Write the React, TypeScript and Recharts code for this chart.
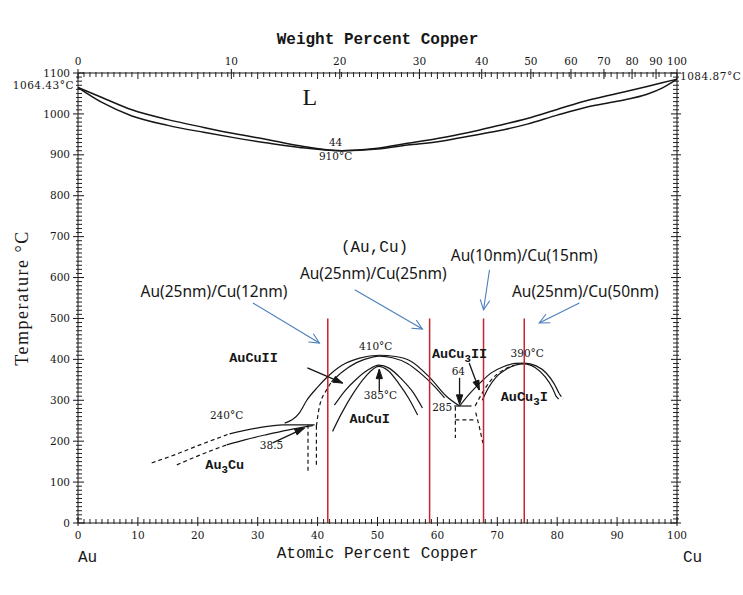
import React from 'react';
import { LineChart, Line, XAxis, YAxis, ReferenceLine, ReferenceDot } from 'recharts';

type Pt = [number, number];

// x = atomic percent Cu, y = temperature in °C
const liquidusAt = [0, 4, 9, 15, 21, 26, 32, 37, 44, 50, 55, 60, 65, 70, 75, 80, 85, 90, 95, 97.5, 100];
const liquidusT = [1064.4, 1040, 1010, 986, 967, 952, 936, 922, 910, 916, 928, 940, 954, 971, 989, 1011, 1033, 1050, 1067, 1076, 1084.9];
const solidusT = [1064.4, 1028, 995, 972, 955, 942, 928, 918, 910, 914, 924, 932, 945, 958, 975, 997, 1017, 1031, 1048, 1063, 1084.9];

// ordered phases (solid / dashed boundaries)
const au3CuOuterDash: Pt[] = [[12.3, 147], [16, 166], [20, 189], [25.3, 218]];
const au3CuOuter: Pt[] = [[25.3, 218], [29.8, 232], [34.2, 240], [39.5, 240]];
const au3CuInnerDash: Pt[] = [[16.5, 142], [20.5, 167], [24.8, 191]];
const au3CuInner: Pt[] = [[24.8, 191], [28, 204], [31.5, 216], [35, 227], [39.2, 238]];
const au3CuEdgeA: Pt[] = [[38.4, 240], [38.4, 122]];
const au3CuEdgeB: Pt[] = [[39.8, 238], [39.8, 137]];

const auCuIIOuter: Pt[] = [[34.5, 244], [37, 270], [38.2, 300], [40, 332], [41.7, 358], [44, 385], [47, 403], [50.3, 410], [53, 407], [55.5, 396], [58.7, 356], [61.5, 310], [63.7, 286]];
const auCuIIInnerDash: Pt[] = [[39.8, 237], [40.3, 284], [41.7, 330], [42.3, 345]];
const auCuIIInner: Pt[] = [[42.3, 345], [44, 368], [46.5, 392], [49, 405], [50.3, 408], [52.5, 404], [55, 390], [57.5, 362], [59.5, 334], [61.2, 306]];

const auCuIA: Pt[] = [[42.8, 288], [44.5, 322], [46.5, 352], [48.5, 375], [50.2, 386], [52, 378], [54, 352], [56, 318], [57.5, 281]];
const auCuIB: Pt[] = [[42.5, 224], [44, 268], [46, 318], [48, 358], [50.2, 383], [51.8, 372], [53.5, 342], [55.2, 305], [56.7, 264]];

const line285: Pt[] = [[62.8, 286], [65.7, 286]];
const auCu3Outer: Pt[] = [[63.7, 286], [65.5, 318], [67.3, 345], [69, 367], [71, 382], [73, 390], [74.5, 391], [76.5, 384], [78.2, 366], [79.5, 340], [80.3, 317]];
const auCu3Inner: Pt[] = [[67.5, 300], [68.5, 330], [69.7, 355], [71.3, 374], [73, 386], [74.5, 389], [76.3, 380], [78, 357], [79.2, 330], [79.8, 310]];
const auCu3Dash: Pt[] = [[66.3, 286], [67.5, 318], [69, 350], [71, 374], [72.8, 385]];
const auCu3TailA: Pt[] = [[80.3, 317], [81, 303]];
const auCu3TailB: Pt[] = [[79.8, 310], [80.4, 300]];
const boxLeft: Pt[] = [[63, 284], [63, 208]];
const boxMid: Pt[] = [[63, 252], [66.5, 252]];
const boxRight: Pt[] = [[66.4, 270], [67, 235], [67.6, 195]];

// film compositions (red lines)
const filmAt = [41.7, 58.7, 67.7, 74.5];
const filmTop = 500;

// axes
const atMajor = [0, 10, 20, 30, 40, 50, 60, 70, 80, 90, 100];
const atMinor = Array.from({ length: 101 }, (_, i) => i).filter((v) => v % 10 !== 0);
const tempMajor = [0, 100, 200, 300, 400, 500, 600, 700, 800, 900, 1000, 1100];
const tempMinor = Array.from({ length: 111 }, (_, i) => i * 10).filter((v) => v % 100 !== 0);
const wtLabels = [0, 10, 20, 30, 40, 50, 60, 70, 80, 90, 100];
const wtAtPos = [0, 25.6, 43.7, 57.0, 67.4, 75.6, 82.3, 87.8, 92.5, 96.5, 100];

// arrows [from, to]
const blueArrows: [Pt, Pt][] = [
  [[29.2, 538], [40.3, 440]],
  [[46.2, 570], [57.5, 474]],
  [[68.7, 619], [67.7, 521]],
  [[83.7, 538], [77, 489]],
];
const blackArrows: [Pt, Pt][] = [
  [[38.3, 379], [44.2, 342]],
  [[50.3, 322], [50.3, 376]],
  [[32.5, 196], [37.8, 232]],
  [[65.3, 391], [67, 325]],
  [[63.7, 355], [63.7, 290]],
];

type Note = { text: string; x: number; y: number; kind: string; anchor?: 'start' | 'middle' | 'end' };
const notes: Note[] = [
  { text: 'L', x: 38.7, y: 1022, kind: 'big' },
  { text: '44', x: 43, y: 921, kind: 'num' },
  { text: '910°C', x: 43, y: 888, kind: 'num' },
  { text: '1064.43°C', x: 0, y: 1061, kind: 'edge', anchor: 'end' },
  { text: '1084.87°C', x: 100, y: 1083, kind: 'edge', anchor: 'start' },
  { text: '(Au,Cu)', x: 49.5, y: 662, kind: 'region' },
  { text: 'AuCuII', x: 29.3, y: 394, kind: 'phase' },
  { text: '410°C', x: 49.7, y: 423, kind: 'num' },
  { text: '385°C', x: 50.5, y: 304, kind: 'num' },
  { text: 'AuCuI', x: 48.7, y: 245, kind: 'phase' },
  { text: '240°C', x: 24.8, y: 255, kind: 'num' },
  { text: '38.5', x: 32.3, y: 181, kind: 'num' },
  { text: 'Au_3Cu', x: 24.5, y: 132, kind: 'phase' },
  { text: 'AuCu_3II', x: 63.7, y: 404, kind: 'phase' },
  { text: '64', x: 63.5, y: 361, kind: 'num' },
  { text: '285', x: 60.8, y: 275, kind: 'num' },
  { text: '390°C', x: 75, y: 405, kind: 'num' },
  { text: 'AuCu_3I', x: 74.5, y: 299, kind: 'phase' },
  { text: 'Au(25nm)/Cu(12nm)', x: 22.7, y: 553, kind: 'film' },
  { text: 'Au(25nm)/Cu(25nm)', x: 49.3, y: 597, kind: 'film' },
  { text: 'Au(10nm)/Cu(15nm)', x: 74.5, y: 641, kind: 'film' },
  { text: 'Au(25nm)/Cu(50nm)', x: 84.7, y: 553, kind: 'film' },
];

const INK = '#161616';
const SERIF = 'DejaVu Serif';
const MONO = 'Liberation Mono';

const noteStyle: Record<string, { font: string; size: number; weight?: string; spacing?: number }> = {
  big: { font: 'Liberation Serif', size: 24 },
  num: { font: SERIF, size: 10.5 },
  edge: { font: SERIF, size: 10.5, spacing: 0.5 },
  region: { font: MONO, size: 16 },
  phase: { font: MONO, size: 13.5, weight: 'bold' },
  film: { font: 'Noto Sans', size: 15.5 },
};

const toObj = (pts: Pt[]) => pts.map(([x, y]) => ({ x, y }));
const pairObj = (xs: number[], ys: number[]) => xs.map((x, i) => ({ x, y: ys[i] }));

const curves: { key: string; data: { x: number; y: number }[]; dash?: boolean; smooth?: boolean; w?: number }[] = [
  { key: 'liq', data: pairObj(liquidusAt, liquidusT), smooth: true, w: 1.5 },
  { key: 'sol', data: pairObj(liquidusAt, solidusT), smooth: true, w: 1.5 },
  { key: 'a3od', data: toObj(au3CuOuterDash), dash: true, smooth: true },
  { key: 'a3o', data: toObj(au3CuOuter), smooth: true },
  { key: 'a3id', data: toObj(au3CuInnerDash), dash: true, smooth: true },
  { key: 'a3i', data: toObj(au3CuInner), smooth: true },
  { key: 'a3ea', data: toObj(au3CuEdgeA), dash: true },
  { key: 'a3eb', data: toObj(au3CuEdgeB), dash: true },
  { key: 'a2o', data: toObj(auCuIIOuter), smooth: true },
  { key: 'a2id', data: toObj(auCuIIInnerDash), dash: true, smooth: true },
  { key: 'a2i', data: toObj(auCuIIInner), smooth: true },
  { key: 'a1a', data: toObj(auCuIA), smooth: true },
  { key: 'a1b', data: toObj(auCuIB), smooth: true },
  { key: 'l285', data: toObj(line285) },
  { key: 'c3o', data: toObj(auCu3Outer), smooth: true },
  { key: 'c3i', data: toObj(auCu3Inner), smooth: true },
  { key: 'c3d', data: toObj(auCu3Dash), dash: true, smooth: true },
  { key: 'c3ta', data: toObj(auCu3TailA), dash: true },
  { key: 'c3tb', data: toObj(auCu3TailB), dash: true },
  { key: 'bxl', data: toObj(boxLeft), dash: true },
  { key: 'bxm', data: toObj(boxMid), dash: true },
  { key: 'bxr', data: toObj(boxRight), dash: true },
];

const rich = (s: string, size: number) => {
  const parts = s.split(/(_\d)/).filter(Boolean);
  let shifted = false;
  return parts.map((part, i) => {
    if (part.startsWith('_')) {
      shifted = true;
      return <tspan key={i} fontSize={size * 0.8} dy={size * 0.3}>{part.slice(1)}</tspan>;
    }
    const dy = shifted ? -size * 0.3 : 0;
    shifted = false;
    return <tspan key={i} dy={dy}>{part}</tspan>;
  });
};

const makeNote = (n: Note) => (p: any) => {
  const st = noteStyle[n.kind];
  const dx = n.anchor === 'end' ? -4 : n.anchor === 'start' ? 3 : 0;
  return (
    <text x={p.cx + dx} y={p.cy} dy="0.35em" textAnchor={n.anchor || 'middle'} fontFamily={st.font}
      fontSize={st.size} fontWeight={st.weight || 'normal'} letterSpacing={st.spacing || 0} fill={INK}>
      {rich(n.text, st.size)}
    </text>
  );
};

// short tick mark drawn at a reference dot, offsets in pixels
const tickMark = (dx1: number, dy1: number, dx2: number, dy2: number) => (p: any) => (
  <path d={`M${p.cx + dx1},${p.cy + dy1}L${p.cx + dx2},${p.cy + dy2}`} stroke="#222" strokeWidth={1} fill="none" />
);

const arrowShape = (color: string, open: boolean) => (p: any) => {
  const { x1, y1, x2, y2 } = p;
  const a = Math.atan2(y2 - y1, x2 - x1);
  const len = open ? 11 : 10;
  const spread = open ? 0.45 : 0.32;
  const hx1 = x2 - len * Math.cos(a - spread);
  const hy1 = y2 - len * Math.sin(a - spread);
  const hx2 = x2 - len * Math.cos(a + spread);
  const hy2 = y2 - len * Math.sin(a + spread);
  return (
    <g>
      <line x1={x1} y1={y1} x2={x2} y2={y2} stroke={color} strokeWidth={open ? 1.1 : 1.3} />
      {open ? (
        <polyline points={`${hx1},${hy1} ${x2},${y2} ${hx2},${hy2}`} fill="none" stroke={color} strokeWidth={1.1} />
      ) : (
        <polygon points={`${hx1},${hy1} ${x2},${y2} ${hx2},${hy2}`} fill={color} stroke={color} />
      )}
    </g>
  );
};

const BottomTick = (p: any) => {
  const { x, y, payload } = p;
  return (
    <g>
      <line x1={x} x2={x} y1={y - 6} y2={y + 3} stroke={INK} />
      <text x={x} y={y + 16} textAnchor="middle" fontFamily={SERIF} fontSize={10.5} fill={INK}>{payload.value}</text>
    </g>
  );
};

const TopTick = (p: any) => {
  const { x, y, payload } = p;
  const wi = wtAtPos.indexOf(payload.value);
  return (
    <g>
      <line x1={x} x2={x} y1={y - 4} y2={y + 6} stroke={INK} />
      <text x={x} y={y - 8} textAnchor="middle" fontFamily={SERIF} fontSize={10.5} fill={INK}>{wtLabels[wi]}</text>
    </g>
  );
};

const LeftTick = (p: any) => {
  const { x, y, payload } = p;
  return (
    <g>
      <line x1={x - 5} x2={x + 6} y1={y} y2={y} stroke={INK} />
      <text x={x - 8} y={y} dy="0.35em" textAnchor="end" fontFamily={SERIF} fontSize={10.5} fill={INK}>{payload.value}</text>
    </g>
  );
};

const RightTick = (p: any) => {
  const { x, y } = p;
  return <line x1={x - 6} x2={x + 4} y1={y} y2={y} stroke={INK} />;
};

export default function App() {
  return (
    <div style={{ position: 'absolute', left: 0, top: 0, width: 743, height: 595, background: '#fff' }}>
      <LineChart width={743} height={595} margin={{ top: 43, right: 0, bottom: 32, left: 0 }}>
        <XAxis dataKey="x" type="number" domain={[0, 100]} ticks={atMajor} interval={0} tick={<BottomTick />}
          tickLine={false} tickSize={0} tickMargin={0} height={40} stroke={INK} />
        <XAxis xAxisId="top" dataKey="x" orientation="top" type="number" domain={[0, 100]} ticks={wtAtPos}
          interval={0} tick={<TopTick />} tickLine={false} tickSize={0} tickMargin={0} height={30} stroke={INK} />
        <YAxis type="number" domain={[0, 1100]} ticks={tempMajor} interval={0} tick={<LeftTick />}
          tickLine={false} tickSize={0} tickMargin={0} width={78} stroke={INK} />
        <YAxis yAxisId="right" orientation="right" type="number" domain={[0, 1100]} ticks={tempMajor}
          interval={0} tick={<RightTick />} tickLine={false} tickSize={0} tickMargin={0} width={66} stroke={INK} />

        {/* invisible series so the top and right axes get their scales */}
        <Line xAxisId="top" yAxisId="right" data={[{ x: 0, y: 0 }, { x: 100, y: 1100 }]} dataKey="y"
          stroke="none" dot={false} activeDot={false} isAnimationActive={false} />

        {/* minor ticks */}
        {atMinor.map((v) => (
          <ReferenceDot key={`bm${v}`} x={v} y={0} r={2} ifOverflow="visible" shape={tickMark(0, -4, 0, 1)} />
        ))}
        {atMinor.concat([10, 20, 30, 40, 50, 60, 70, 80, 90]).map((v) => (
          <ReferenceDot key={`tm${v}`} x={v} y={1100} r={2} ifOverflow="visible"
            shape={tickMark(0, -1, 0, v % 10 === 0 ? 6 : 4)} />
        ))}
        {tempMinor.map((v) => (
          <ReferenceDot key={`lm${v}`} x={0} y={v} r={2} ifOverflow="visible" shape={tickMark(-2, 0, 4, 0)} />
        ))}
        {tempMinor.map((v) => (
          <ReferenceDot key={`rm${v}`} x={100} y={v} r={2} ifOverflow="visible" shape={tickMark(-4, 0, 2, 0)} />
        ))}

        {curves.map((c) => (
          <Line key={c.key} data={c.data} dataKey="y" type={c.smooth ? 'monotone' : 'linear'} stroke={INK}
            strokeWidth={c.w || 1.2} strokeDasharray={c.dash ? '4 3' : undefined} dot={false} activeDot={false}
            isAnimationActive={false} />
        ))}

        {filmAt.map((x) => (
          <Line key={`film${x}`} data={[{ x, y: 0 }, { x, y: filmTop }]} dataKey="y" type="linear"
            stroke="#c8242b" strokeWidth={1.5} dot={false} activeDot={false} isAnimationActive={false} />
        ))}

        {blueArrows.map(([a, b], i) => (
          <ReferenceLine key={`ba${i}`} segment={[{ x: a[0], y: a[1] }, { x: b[0], y: b[1] }]}
            ifOverflow="visible" shape={arrowShape('#4a7ebb', true)} />
        ))}
        {blackArrows.map(([a, b], i) => (
          <ReferenceLine key={`ka${i}`} segment={[{ x: a[0], y: a[1] }, { x: b[0], y: b[1] }]}
            ifOverflow="visible" shape={arrowShape(INK, false)} />
        ))}

        {notes.map((n, i) => (
          <ReferenceDot key={`n${i}`} x={n.x} y={n.y} ifOverflow="visible" shape={makeNote(n)} />
        ))}
      </LineChart>

      <div style={{ position: 'absolute', left: 6, width: 743, top: 31, textAlign: 'center',
        fontFamily: MONO, fontSize: 16, fontWeight: 'bold', color: INK }}>Weight Percent Copper</div>
      <div style={{ position: 'absolute', left: 6, width: 743, top: 545, textAlign: 'center',
        fontFamily: MONO, fontSize: 16, color: INK }}>Atomic Percent Copper</div>
      <div style={{ position: 'absolute', left: 78, top: 549, fontFamily: MONO, fontSize: 16, color: INK }}>Au</div>
      <div style={{ position: 'absolute', left: 683, top: 549, fontFamily: MONO, fontSize: 16, color: INK }}>Cu</div>
      <div style={{ position: 'absolute', left: 22, top: 298, transform: 'translate(-50%, -50%) rotate(-90deg)',
        whiteSpace: 'nowrap', fontFamily: 'Liberation Serif', fontSize: 18, letterSpacing: 1.5, color: INK }}>Temperature °C</div>
    </div>
  );
}
